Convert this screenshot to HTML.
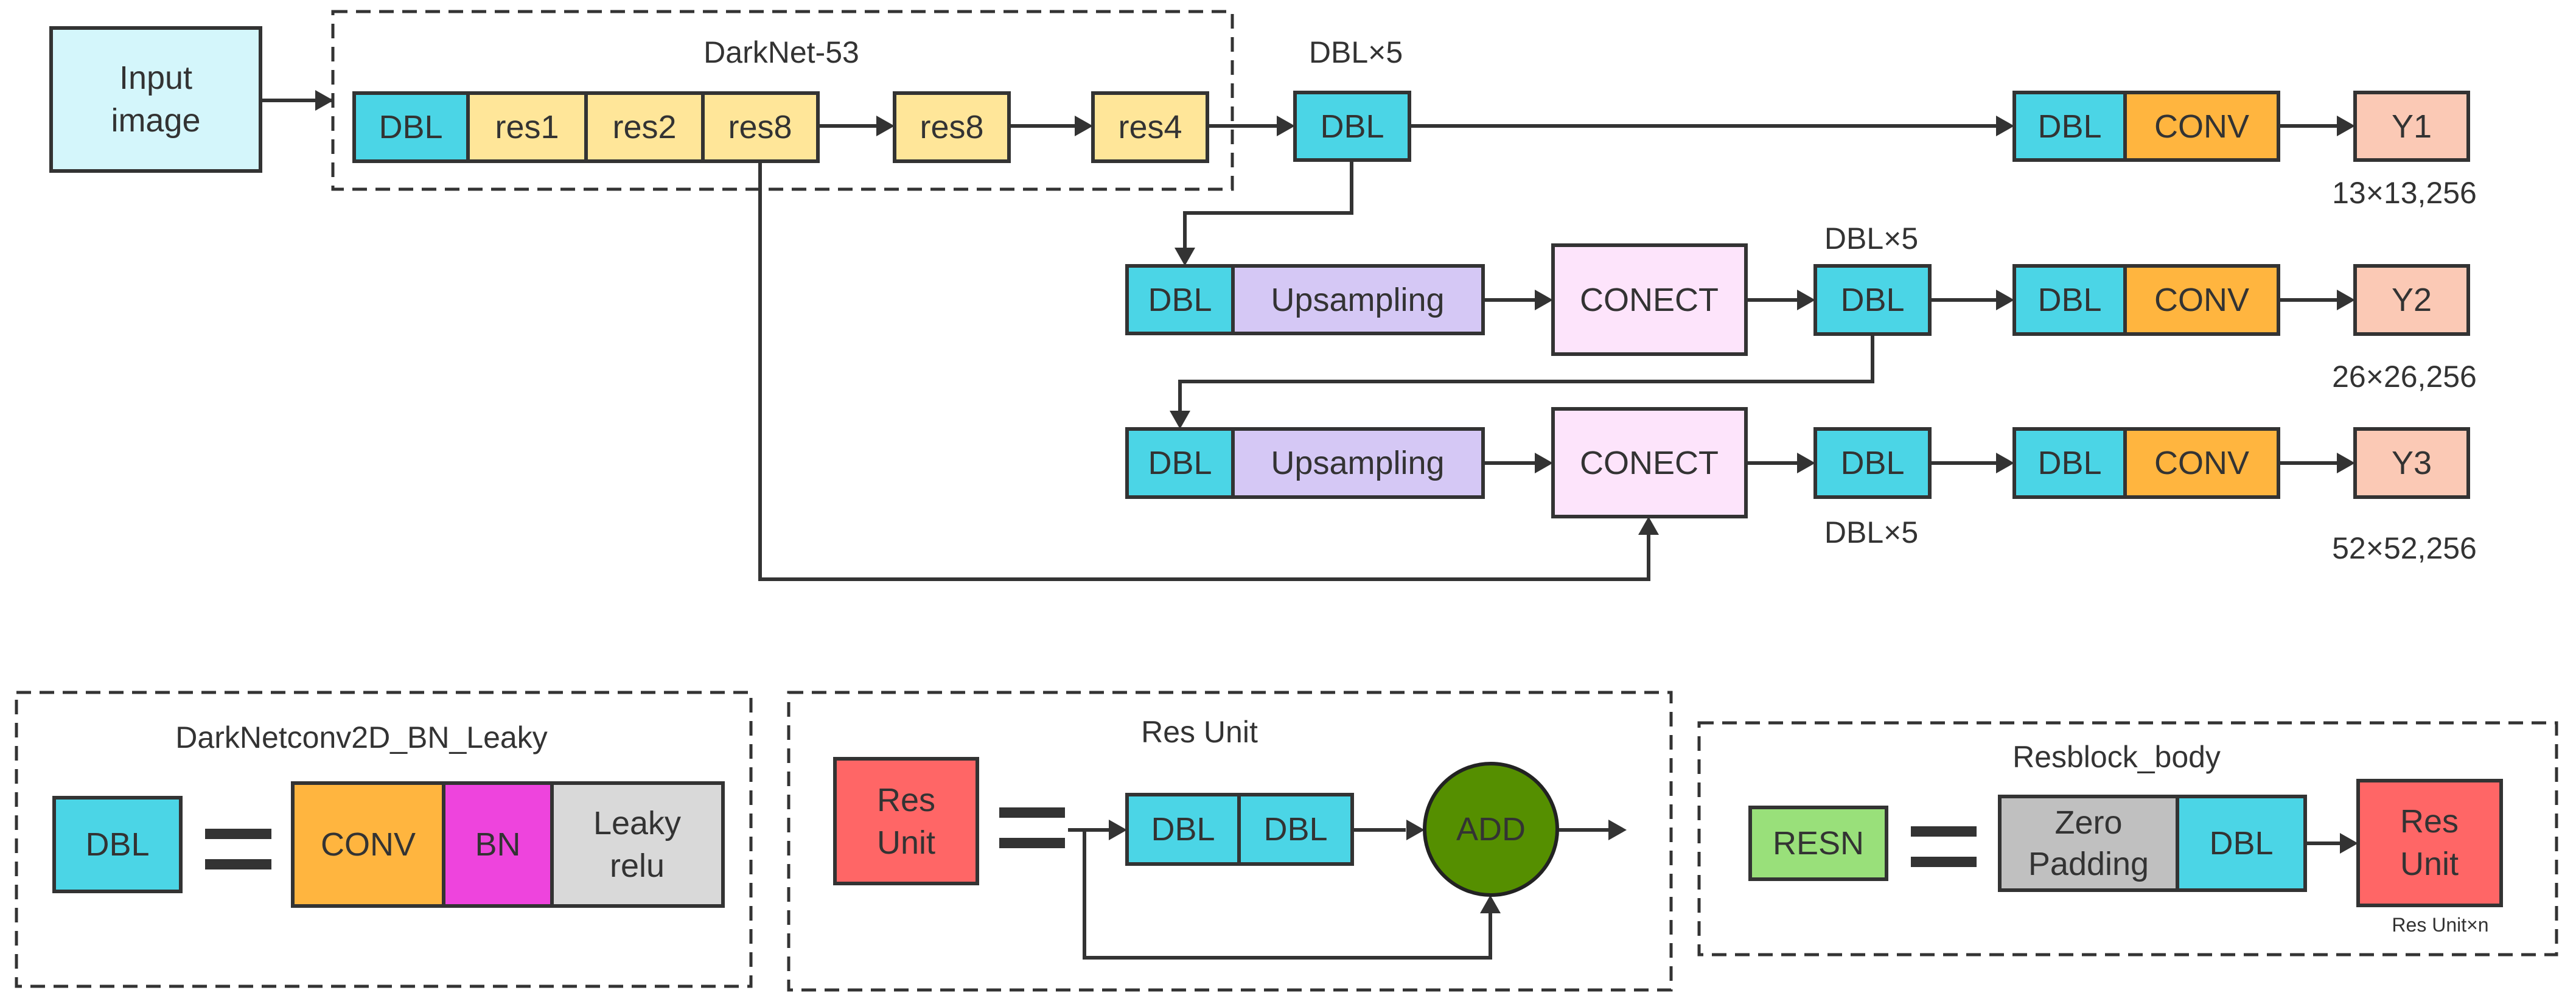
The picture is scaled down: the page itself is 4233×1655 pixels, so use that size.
<!DOCTYPE html>
<html><head><meta charset="utf-8"><style>html,body{margin:0;padding:0;background:#fff}svg{display:block}</style></head><body>
<svg width="4233" height="1655" viewBox="0 0 4233 1655" xmlns="http://www.w3.org/2000/svg" font-family="Liberation Sans, sans-serif" fill="#333">
<defs>
<marker id="a" markerWidth="10" markerHeight="10" refX="9" refY="5" orient="auto" markerUnits="userSpaceOnUse" viewBox="0 0 10 10" style="overflow:visible">
</marker>
</defs>
<style>
.b{stroke:#333;stroke-width:6}
.l{stroke:#333;stroke-width:6;fill:none}
.d{stroke:#333;stroke-width:5;fill:none;stroke-dasharray:24 14}
text{font-size:54px;text-anchor:middle;dominant-baseline:central;fill:#333}
.s{font-size:50px}
.t{font-size:32px}
</style>
<!-- dashed boxes -->
<rect class="d" x="547" y="19" width="1478" height="292"/>
<rect class="d" x="27" y="1138" width="1207" height="483"/>
<rect class="d" x="1296" y="1138" width="1450" height="489"/>
<rect class="d" x="2792" y="1188" width="1409" height="381"/>
<text class="s" x="1284" y="86">DarkNet-53</text>
<text class="s" x="2228" y="86">DBL×5</text>
<text class="s" x="3075" y="392">DBL×5</text>
<text class="s" x="3075" y="875">DBL×5</text>
<text class="s" x="3951" y="317">13×13,256</text>
<text class="s" x="3951" y="619">26×26,256</text>
<text class="s" x="3951" y="901">52×52,256</text>

<!-- lines -->
<path class="l" d="M428 165H545M1344 207H1440M1658 207H1766M1984 207H2098M2316 207H3280M3744 207H3840"/>
<path class="l" d="M2221 263V350H1947V410"/>
<path class="l" d="M2437 493H2522M2869 493H2953M3171 493H3280M3744 493H3840"/>
<path class="l" d="M3077 549V627H1939V678"/>
<path class="l" d="M2437 761H2522M2869 761H2953M3171 761H3280M3744 761H3840"/>
<path class="l" d="M1249 265V952H2709V878"/>
<g fill="#333">
<polygon points="548,165 518,148 518,182"/>
<polygon points="1470,207 1440,190 1440,224"/>
<polygon points="1796,207 1766,190 1766,224"/>
<polygon points="2128,207 2098,190 2098,224"/>
<polygon points="3310,207 3280,190 3280,224"/>
<polygon points="3870,207 3840,190 3840,224"/>
<polygon points="1947,437 1930,407 1964,407"/>
<polygon points="2552,493 2522,476 2522,510"/>
<polygon points="2983,493 2953,476 2953,510"/>
<polygon points="3310,493 3280,476 3280,510"/>
<polygon points="3870,493 3840,476 3840,510"/>
<polygon points="1939,705 1922,675 1956,675"/>
<polygon points="2552,761 2522,744 2522,778"/>
<polygon points="2983,761 2953,744 2953,778"/>
<polygon points="3310,761 3280,744 3280,778"/>
<polygon points="3870,761 3840,744 3840,778"/>
<polygon points="2709,849 2692,879 2726,879"/>
</g>

<!-- top row -->
<rect class="b" x="84" y="46" width="344" height="235" fill="#d4f6fb"/>
<text x="256" y="128">Input</text><text x="256" y="198">image</text>
<rect class="b" x="582" y="153" width="187" height="112" fill="#4bd5e6"/><text x="675" y="209">DBL</text>
<rect class="b" x="769" y="153" width="194" height="112" fill="#ffe699"/><text x="866" y="209">res1</text>
<rect class="b" x="963" y="153" width="192" height="112" fill="#ffe699"/><text x="1059" y="209">res2</text>
<rect class="b" x="1155" y="153" width="189" height="112" fill="#ffe699"/><text x="1249" y="209">res8</text>
<rect class="b" x="1470" y="153" width="188" height="112" fill="#ffe699"/><text x="1564" y="209">res8</text>
<rect class="b" x="1796" y="153" width="188" height="112" fill="#ffe699"/><text x="1890" y="209">res4</text>
<rect class="b" x="2128" y="152" width="188" height="111" fill="#4bd5e6"/><text x="2222" y="208">DBL</text>

<!-- output heads -->
<g>
<rect class="b" x="3310" y="152" width="182" height="111" fill="#4bd5e6"/><text x="3401" y="208">DBL</text>
<rect class="b" x="3492" y="152" width="252" height="111" fill="#ffb53f"/><text x="3618" y="208">CONV</text>
<rect class="b" x="3870" y="152" width="186" height="111" fill="#fbc9b5"/><text x="3963" y="208">Y1</text>
<rect class="b" x="3310" y="437" width="182" height="112" fill="#4bd5e6"/><text x="3401" y="493">DBL</text>
<rect class="b" x="3492" y="437" width="252" height="112" fill="#ffb53f"/><text x="3618" y="493">CONV</text>
<rect class="b" x="3870" y="437" width="186" height="112" fill="#fbc9b5"/><text x="3963" y="493">Y2</text>
<rect class="b" x="3310" y="705" width="182" height="112" fill="#4bd5e6"/><text x="3401" y="761">DBL</text>
<rect class="b" x="3492" y="705" width="252" height="112" fill="#ffb53f"/><text x="3618" y="761">CONV</text>
<rect class="b" x="3870" y="705" width="186" height="112" fill="#fbc9b5"/><text x="3963" y="761">Y3</text>
</g>

<!-- row2 -->
<rect class="b" x="1852" y="437" width="174" height="111" fill="#4bd5e6"/><text x="1939" y="493">DBL</text>
<rect class="b" x="2026" y="437" width="411" height="111" fill="#d5c8f5"/><text x="2231" y="493">Upsampling</text>
<rect class="b" x="2552" y="403" width="317" height="179" fill="#fde4fb"/><text x="2710" y="493">CONECT</text>
<rect class="b" x="2983" y="437" width="188" height="112" fill="#4bd5e6"/><text x="3077" y="493">DBL</text>
<!-- row3 -->
<rect class="b" x="1852" y="705" width="174" height="112" fill="#4bd5e6"/><text x="1939" y="761">DBL</text>
<rect class="b" x="2026" y="705" width="411" height="112" fill="#d5c8f5"/><text x="2231" y="761">Upsampling</text>
<rect class="b" x="2552" y="672" width="317" height="177" fill="#fde4fb"/><text x="2710" y="761">CONECT</text>
<rect class="b" x="2983" y="705" width="188" height="112" fill="#4bd5e6"/><text x="3077" y="761">DBL</text>

<!-- box1 -->
<text class="s" x="594" y="1212">DarkNetconv2D_BN_Leaky</text>
<rect class="b" x="89" y="1311" width="208" height="154" fill="#4bd5e6"/><text x="193" y="1388">DBL</text>
<rect x="337" y="1362" width="109" height="17" fill="#333"/><rect x="337" y="1412" width="109" height="17" fill="#333"/>
<rect class="b" x="481" y="1287" width="248" height="202" fill="#ffb53f"/><text x="605" y="1388">CONV</text>
<rect class="b" x="729" y="1287" width="178" height="202" fill="#ee44dd"/><text x="818" y="1388">BN</text>
<rect class="b" x="907" y="1287" width="281" height="202" fill="#d9d9d9"/><text x="1047" y="1353">Leaky</text><text x="1047" y="1423">relu</text>

<!-- box2 -->
<text class="s" x="1971" y="1203">Res Unit</text>
<rect class="b" x="1372" y="1247" width="234" height="205" fill="#ff6666"/><text x="1489" y="1315">Res</text><text x="1489" y="1385">Unit</text>
<rect x="1642" y="1327" width="108" height="17" fill="#333"/><rect x="1642" y="1377" width="108" height="17" fill="#333"/>
<path class="l" d="M1755 1364H1822M1782 1364V1574H2449V1500M2222 1364H2310M2560 1364H2643"/>
<polygon points="1852,1364 1822,1347 1822,1381" fill="#333"/>
<polygon points="2341,1364 2311,1347 2311,1381" fill="#333"/>
<polygon points="2673,1364 2643,1347 2643,1381" fill="#333"/>
<polygon points="2449,1471 2432,1501 2466,1501" fill="#333"/>
<rect class="b" x="1852" y="1306" width="184" height="114" fill="#4bd5e6"/><text x="1944" y="1363">DBL</text>
<rect class="b" x="2036" y="1306" width="186" height="114" fill="#4bd5e6"/><text x="2129" y="1363">DBL</text>
<ellipse cx="2450" cy="1363" rx="109" ry="108" fill="#558f00" stroke="#222" stroke-width="6"/><text x="2450" y="1363">ADD</text>

<!-- box3 -->
<text class="s" x="3478" y="1244">Resblock_body</text>
<rect class="b" x="2876" y="1327" width="224" height="118" fill="#99e07a"/><text x="2988" y="1386">RESN</text>
<rect x="3140" y="1358" width="108" height="17" fill="#333"/><rect x="3140" y="1408" width="108" height="17" fill="#333"/>
<rect class="b" x="3286" y="1309" width="292" height="154" fill="#c0c0c0"/><text x="3432" y="1352">Zero</text><text x="3432" y="1420">Padding</text>
<rect class="b" x="3578" y="1309" width="210" height="154" fill="#4bd5e6"/><text x="3683" y="1386">DBL</text>
<path class="l" d="M3788 1386H3845"/><polygon points="3875,1386 3845,1369 3845,1403" fill="#333"/>
<rect class="b" x="3875" y="1283" width="235" height="205" fill="#ff6666"/><text x="3992" y="1350">Res</text><text x="3992" y="1420">Unit</text>
<text class="t" x="4010" y="1520">Res Unit×n</text>
</svg>
</body></html>
